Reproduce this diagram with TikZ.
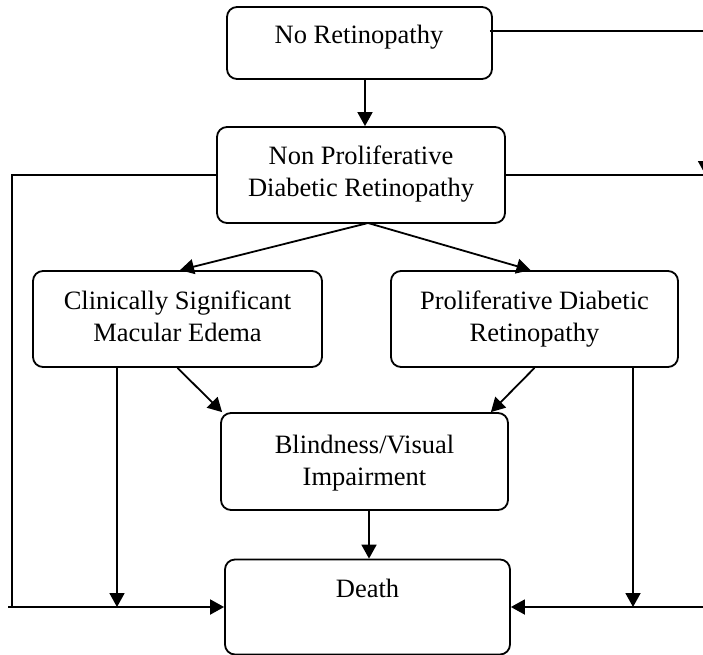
\documentclass[tikz,border=0pt]{standalone}
\usepackage{fontspec}
\setmainfont{Liberation Serif}
\usetikzlibrary{arrows.meta,calc}
\begin{document}
\begin{tikzpicture}[x=1pt,y=-1pt,
  box/.style={draw,line width=1.8pt,rounded corners=10pt,inner sep=0pt},
  txt/.style={inner sep=0pt,align=center,font=\fontsize{26.5}{32}\selectfont},
  ln/.style={line width=1.8pt},
  arr/.style={line width=1.8pt,-{Triangle[length=14pt,width=15pt]}}]
\useasboundingbox (0,0) rectangle (703,654);
% boxes
\node[box,minimum width=265pt,minimum height=72pt] (nr) at (359.5,43) {};
\node[box,minimum width=288pt,minimum height=96pt] (npdr) at (361,175) {};
\node[box,minimum width=289pt,minimum height=96pt] (csme) at (177.5,319) {};
\node[box,minimum width=287pt,minimum height=96pt] (pdr) at (534.5,319) {};
\node[box,minimum width=287pt,minimum height=97pt] (bvi) at (364.5,461.5) {};
\node[box,minimum width=285pt,minimum height=95pt] (death) at (367.5,607) {};
% texts
\node[txt,anchor=base] (nrt) at (359,43) {No Retinopathy};
\node[txt] (npdrt) at (361,174) {Non Proliferative\\Diabetic Retinopathy};
\node[txt] (csmet) at (177.5,316) {Clinically Significant\\Macular Edema};
\node[txt] (pdrt) at (534.5,318.8) {Proliferative Diabetic\\Retinopathy};
\node[txt] (bvit) at (364.5,462.8) {Blindness/Visual\\Impairment};
\node[txt,anchor=base] (deatht) at (367.5,597) {Death};
% helper coordinates
\coordinate (apex) at (368,223);
\coordinate (lt) at (12,175);
\coordinate (lb) at (12,607);
\coordinate (cj) at (117,607);
\coordinate (pj) at (633,607);
\coordinate (rt) at (705.5,31);
\coordinate (rm) at (705.5,175);
\coordinate (rb) at (705.5,607);
% connectors
\draw[arr] ([xshift=5.5pt]nr.south) -- ([xshift=5.5pt]nr.south |- npdr.north);
\draw[arr] (apex) -- ([xshift=2.5pt]csme.north);
\draw[arr] (apex) -- ([xshift=-4pt]pdr.north);
\draw[arr] (csme.south) -- ([xshift=2pt]bvi.north west);
\draw[arr] (pdr.south) -- ([xshift=-18pt]bvi.north east);
\draw[arr] ([xshift=4.5pt]bvi.south) -- ([xshift=4.5pt]bvi.south |- death.north);
\draw[arr] (csme.south -| cj) -- (cj);
\draw[arr] (pdr.south -| pj) -- (pj);
\draw[ln] (npdr.west) -- (lt) -- (lb);
\draw[arr] ([xshift=-4pt]lb) -- (death.west);
\draw[ln] ([xshift=-3pt]nr.east |- rt) -- (rt);
\draw[arr] (rt) -- (rm);
\draw[ln] (npdr.east) -- (rm) -- (rb);
\draw[arr] (rb) -- (death.east);
\end{tikzpicture}
\end{document}
